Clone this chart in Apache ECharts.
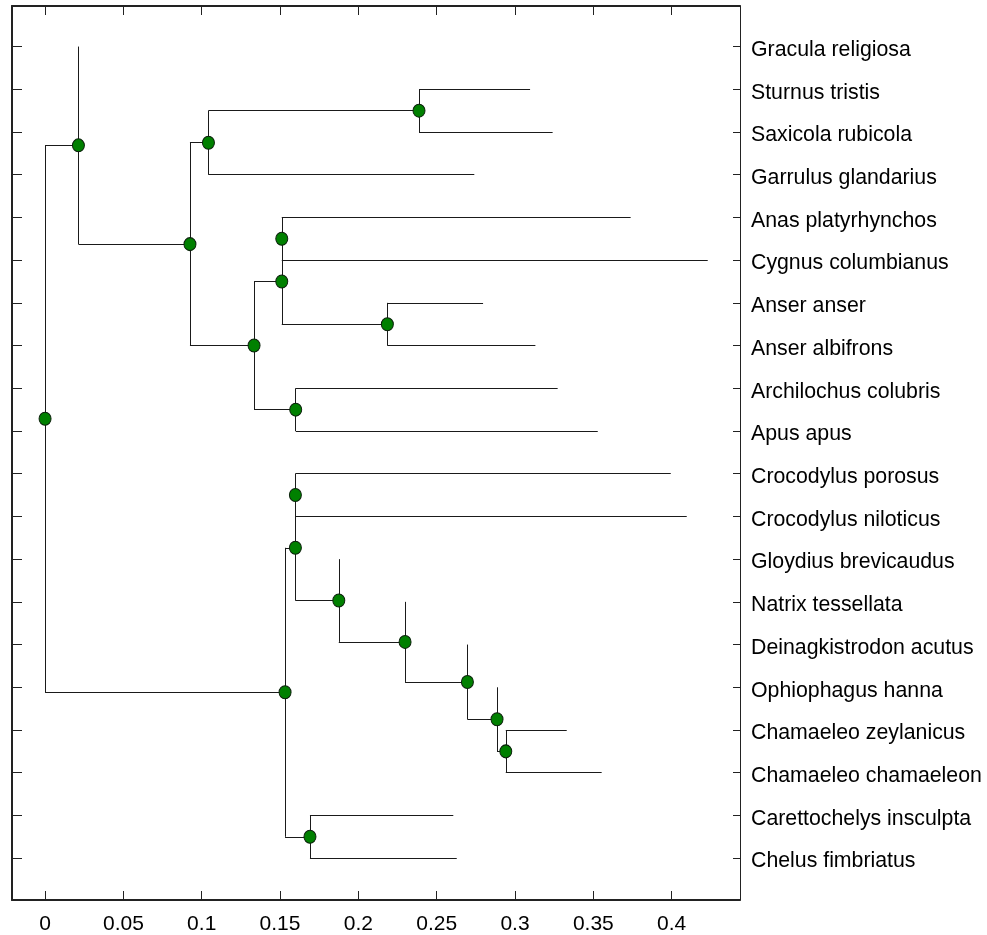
<!DOCTYPE html>
<html>
<head>
<meta charset="utf-8">
<title>Phylogenetic tree</title>
<script src="https://cdn.jsdelivr.net/npm/echarts@6/dist/echarts.min.js"></script>
<style>
  html, body { margin: 0; padding: 0; background: #fff; }
  #chart { width: 987px; height: 935px; }
</style>
</head>
<body>
<div id="chart"></div>
<script>
// Leaf taxa, top to bottom
const species = [
  'Gracula religiosa', 'Sturnus tristis', 'Saxicola rubicola', 'Garrulus glandarius',
  'Anas platyrhynchos', 'Cygnus columbianus', 'Anser anser', 'Anser albifrons',
  'Archilochus colubris', 'Apus apus', 'Crocodylus porosus', 'Crocodylus niloticus',
  'Gloydius brevicaudus', 'Natrix tessellata', 'Deinagkistrodon acutus', 'Ophiophagus hanna',
  'Chamaeleo zeylanicus', 'Chamaeleo chamaeleon', 'Carettochelys insculpta', 'Chelus fimbriatus'
];

// Distance from the root to each leaf tip
const tipDepth = [
  0.0213, 0.3096, 0.3240, 0.2740,
  0.3738, 0.4230, 0.2796, 0.3130,
  0.3272, 0.3528, 0.3994, 0.4096,
  0.1875, 0.2298, 0.2696, 0.2885,
  0.3330, 0.3553, 0.2606, 0.2628
];

// Distance from the root to each internal node (N0 is the root)
const nodeDepth = [
  0, 0.0213, 0.0925, 0.1043, 0.2387, 0.1334, 0.1511, 0.1511, 0.2185, 0.1600,
  0.1532, 0.1598, 0.1598, 0.1875, 0.2298, 0.2696, 0.2885, 0.2941, 0.1691
];

// Children of each internal node: 'L#' = leaf index, 'N#' = internal node index
const nodeChildren = [
  ['N1', 'N10'], ['L0', 'N2'], ['N3', 'N5'], ['N4', 'L3'], ['L1', 'L2'],
  ['N6', 'N9'], ['N7', 'N8'], ['L4', 'L5'], ['L6', 'L7'], ['L8', 'L9'],
  ['N11', 'N18'], ['N12', 'N13'], ['L10', 'L11'], ['L12', 'N14'], ['L13', 'N15'],
  ['L14', 'N16'], ['L15', 'N17'], ['L16', 'L17'], ['L18', 'L19']
];

// Distance axis ticks
const xTickValues = [0, 0.05, 0.1, 0.15, 0.2, 0.25, 0.3, 0.35, 0.4];
const xTickLabels = ['0', '0.05', '0.1', '0.15', '0.2', '0.25', '0.3', '0.35', '0.4'];

const X_MIN = -0.0211, X_MAX = 0.4436;
const Y_MIN = -0.95, Y_MAX = 19.98;
// The taxon names sit a little below their row ticks
const NAME_DROP = 0.08;

// Rectangular dendrogram layout: leaves sit on rows, internal nodes at the mean of their children
const nodeY = new Array(nodeDepth.length);
function refX(ref) {
  const i = +ref.slice(1);
  return ref[0] === 'L' ? tipDepth[i] : nodeDepth[i];
}
function refY(ref) {
  const i = +ref.slice(1);
  if (ref[0] === 'L') return i;
  if (nodeY[i] === undefined) {
    const [a, b] = nodeChildren[i];
    nodeY[i] = (refY(a) + refY(b)) / 2;
  }
  return nodeY[i];
}
refY('N0');

const branches = [];
const nodePoints = [];
nodeChildren.forEach((kids, i) => {
  const x = nodeDepth[i];
  const ys = kids.map(refY);
  branches.push({ coords: [[x, Math.min(...ys)], [x, Math.max(...ys)]] });
  kids.forEach(k => {
    const cx = refX(k), cy = refY(k);
    if (cx !== x) branches.push({ coords: [[x, cy], [cx, cy]] });
  });
  nodePoints.push([x, nodeY[i]]);
});

const rowValues = species.map((_, i) => i);
const frameColor = '#222';
const textStyle = { color: '#000', fontFamily: 'Liberation Sans, Arial, sans-serif', fontSize: 21 };

const chart = echarts.init(document.getElementById('chart'), null, { renderer: 'canvas' });
chart.setOption({
  animation: false,
  backgroundColor: '#fff',
  grid: { left: 12, right: 247, top: 6, bottom: 34, containLabel: false },
  xAxis: [
    {
      type: 'value', position: 'bottom', min: X_MIN, max: X_MAX,
      axisLine: { show: true, onZero: false, lineStyle: { color: frameColor, width: 2 } },
      axisTick: { show: true, inside: true, length: 9, customValues: xTickValues, lineStyle: { color: frameColor } },
      axisLabel: {
        show: true, customValues: xTickValues, margin: 14, ...textStyle,
        formatter: v => {
          const k = xTickValues.findIndex(t => Math.abs(t - v) < 1e-9);
          return k >= 0 ? xTickLabels[k] : '';
        }
      },
      splitLine: { show: false }
    },
    {
      type: 'value', position: 'top', min: X_MIN, max: X_MAX,
      axisLine: { show: true, onZero: false, lineStyle: { color: frameColor, width: 2 } },
      axisTick: { show: true, inside: true, length: 9, customValues: xTickValues, lineStyle: { color: frameColor } },
      axisLabel: { show: false },
      splitLine: { show: false }
    }
  ],
  yAxis: [
    {
      type: 'value', position: 'left', inverse: true, min: Y_MIN, max: Y_MAX,
      axisLine: { show: true, onZero: false, lineStyle: { color: frameColor, width: 2 } },
      axisTick: { show: true, inside: true, length: 10, customValues: rowValues, lineStyle: { color: frameColor } },
      axisLabel: { show: false },
      splitLine: { show: false }
    },
    {
      type: 'value', position: 'right', inverse: true, min: Y_MIN, max: Y_MAX,
      axisLine: { show: true, onZero: false, lineStyle: { color: frameColor, width: 1 } },
      axisTick: { show: true, inside: true, length: 7, customValues: rowValues, lineStyle: { color: frameColor } },
      axisLabel: { show: false },
      splitLine: { show: false }
    },
    {
      // label-only axis for the taxon names
      type: 'value', position: 'right', inverse: true,
      min: Y_MIN - NAME_DROP, max: Y_MAX - NAME_DROP,
      axisLine: { show: false },
      axisTick: { show: false },
      axisLabel: {
        show: true, customValues: rowValues, margin: 11, ...textStyle, fontSize: 21.3,
        formatter: v => species[Math.round(v)] || ''
      },
      splitLine: { show: false }
    }
  ],
  series: [
    {
      type: 'lines',
      coordinateSystem: 'cartesian2d',
      xAxisIndex: 0, yAxisIndex: 0,
      polyline: false,
      silent: true,
      lineStyle: { color: '#1a1a1a', width: 1, opacity: 1 },
      data: branches,
      z: 2
    },
    {
      type: 'scatter',
      xAxisIndex: 0, yAxisIndex: 0,
      symbol: 'circle',
      symbolSize: [12, 13],
      itemStyle: { color: '#008000', borderColor: '#0b1f0b', borderWidth: 1, opacity: 1 },
      data: nodePoints,
      z: 3
    }
  ]
});
</script>
</body>
</html>
